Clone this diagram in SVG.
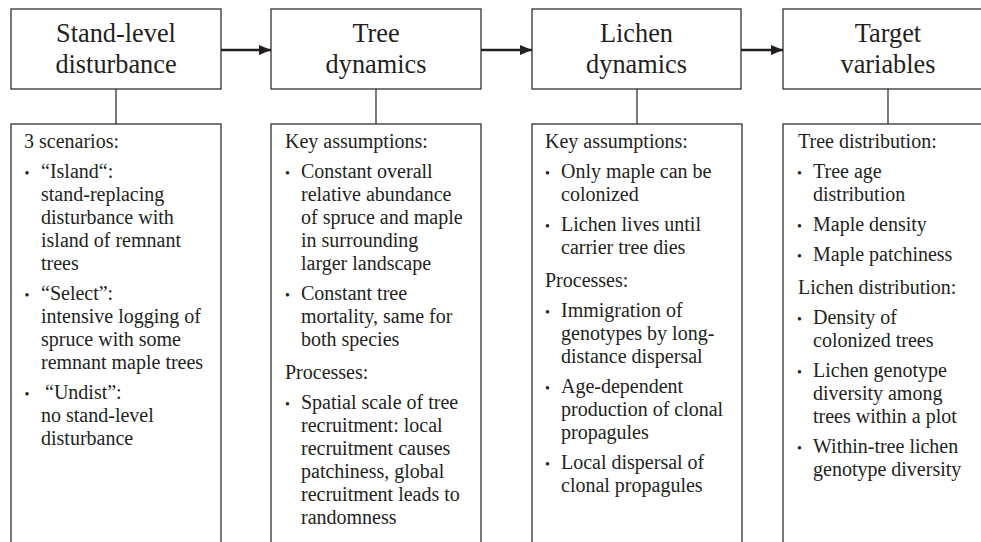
<svg xmlns="http://www.w3.org/2000/svg" width="981" height="542" viewBox="0 0 981 542">
<defs>
<marker id="ah" markerWidth="12" markerHeight="10" refX="12" refY="5" orient="auto" markerUnits="userSpaceOnUse">
<path d="M0,0 L12,5 L0,10 Z" fill="#231f20"/>
</marker>
<style>
rect{fill:#fff;stroke:#231f20;stroke-width:1.2}
text{font-family:"Liberation Serif","Times New Roman",serif;fill:#231f20}
.t{font-size:26.3px;text-anchor:middle}
.b{font-size:20px}
.d{font-size:14px}
.stem{stroke:#231f20;stroke-width:1.2;fill:none}
.arr{stroke:#231f20;stroke-width:2.4;fill:none;marker-end:url(#ah)}
</style>
</defs>
<rect x="0" y="0" width="981" height="542" style="fill:#fff;stroke:none"/>
<g id="connectors">
<line class="arr" x1="221" y1="50" x2="271" y2="50"/>
<line class="arr" x1="481" y1="50" x2="532" y2="50"/>
<line class="arr" x1="741" y1="50" x2="783" y2="50"/>
<line class="stem" x1="116" y1="89" x2="116" y2="124"/>
<line class="stem" x1="376" y1="89" x2="376" y2="124"/>
<line class="stem" x1="637" y1="89" x2="637" y2="124"/>
<line class="stem" x1="888" y1="89" x2="888" y2="124"/>
</g>
<g id="n1">
<rect x="11" y="9" width="210" height="80"/>
<text class="t" x="116" y="41.7">Stand-level</text>
<text class="t" x="116" y="72.7">disturbance</text>
</g>
<g id="n2">
<rect x="271" y="9" width="210" height="80"/>
<text class="t" x="376" y="41.7">Tree</text>
<text class="t" x="376" y="72.7">dynamics</text>
</g>
<g id="n3">
<rect x="532" y="9" width="209" height="80"/>
<text class="t" x="636.5" y="41.7">Lichen</text>
<text class="t" x="636.5" y="72.7">dynamics</text>
</g>
<g id="n4">
<rect x="783" y="9" width="210" height="80"/>
<text class="t" x="888" y="41.7">Target</text>
<text class="t" x="888" y="72.7">variables</text>
</g>
<g id="d1">
<rect x="11" y="124" width="210" height="440"/>
<text class="b" x="24" y="148">3 scenarios:</text>
<text class="d" x="24.5" y="178">•</text>
<text class="b" x="41" y="178">“Island“:</text>
<text class="b" x="41" y="201">stand-replacing</text>
<text class="b" x="41" y="224">disturbance with</text>
<text class="b" x="41" y="247">island of remnant</text>
<text class="b" x="41" y="270">trees</text>
<text class="d" x="24.5" y="300">•</text>
<text class="b" x="41" y="300">“Select”:</text>
<text class="b" x="41" y="323">intensive logging of</text>
<text class="b" x="41" y="346">spruce with some</text>
<text class="b" x="41" y="369">remnant maple trees</text>
<text class="d" x="24.5" y="399">•</text>
<text class="b" x="45" y="399">“Undist”:</text>
<text class="b" x="41" y="422">no stand-level</text>
<text class="b" x="41" y="445">disturbance</text>
</g>
<g id="d2">
<rect x="271" y="124" width="210" height="440"/>
<text class="b" x="285" y="148">Key assumptions:</text>
<text class="d" x="285" y="178">•</text>
<text class="b" x="301" y="178">Constant overall</text>
<text class="b" x="301" y="201">relative abundance</text>
<text class="b" x="301" y="224">of spruce and maple</text>
<text class="b" x="301" y="247">in surrounding</text>
<text class="b" x="301" y="270">larger landscape</text>
<text class="d" x="285" y="300">•</text>
<text class="b" x="301" y="300">Constant tree</text>
<text class="b" x="301" y="323">mortality, same for</text>
<text class="b" x="301" y="346">both species</text>
<text class="b" x="285" y="379">Processes:</text>
<text class="d" x="285" y="409">•</text>
<text class="b" x="301" y="409">Spatial scale of tree</text>
<text class="b" x="301" y="432">recruitment: local</text>
<text class="b" x="301" y="455">recruitment causes</text>
<text class="b" x="301" y="478">patchiness, global</text>
<text class="b" x="301" y="501">recruitment leads to</text>
<text class="b" x="301" y="524">randomness</text>
</g>
<g id="d3">
<rect x="532" y="124" width="210" height="440"/>
<text class="b" x="545" y="148">Key assumptions:</text>
<text class="d" x="545" y="178">•</text>
<text class="b" x="561" y="178">Only maple can be</text>
<text class="b" x="561" y="201">colonized</text>
<text class="d" x="545" y="231">•</text>
<text class="b" x="561" y="231">Lichen lives until</text>
<text class="b" x="561" y="254">carrier tree dies</text>
<text class="b" x="545" y="287">Processes:</text>
<text class="d" x="545" y="317">•</text>
<text class="b" x="561" y="317">Immigration of</text>
<text class="b" x="561" y="340">genotypes by long-</text>
<text class="b" x="561" y="363">distance dispersal</text>
<text class="d" x="545" y="393">•</text>
<text class="b" x="561" y="393">Age-dependent</text>
<text class="b" x="561" y="416">production of clonal</text>
<text class="b" x="561" y="439">propagules</text>
<text class="d" x="545" y="469">•</text>
<text class="b" x="561" y="469">Local dispersal of</text>
<text class="b" x="561" y="492">clonal propagules</text>
</g>
<g id="d4">
<rect x="783" y="124" width="210" height="440"/>
<text class="b" x="798" y="148">Tree distribution:</text>
<text class="d" x="797" y="178">•</text>
<text class="b" x="813" y="178">Tree age</text>
<text class="b" x="813" y="201">distribution</text>
<text class="d" x="797" y="231">•</text>
<text class="b" x="813" y="231">Maple density</text>
<text class="d" x="797" y="261">•</text>
<text class="b" x="813" y="261">Maple patchiness</text>
<text class="b" x="798" y="294">Lichen distribution:</text>
<text class="d" x="797" y="324">•</text>
<text class="b" x="813" y="324">Density of</text>
<text class="b" x="813" y="347">colonized trees</text>
<text class="d" x="797" y="377">•</text>
<text class="b" x="813" y="377">Lichen genotype</text>
<text class="b" x="813" y="400">diversity among</text>
<text class="b" x="813" y="423">trees within a plot</text>
<text class="d" x="797" y="453">•</text>
<text class="b" x="813" y="453">Within-tree lichen</text>
<text class="b" x="813" y="476">genotype diversity</text>
</g>
</svg>
